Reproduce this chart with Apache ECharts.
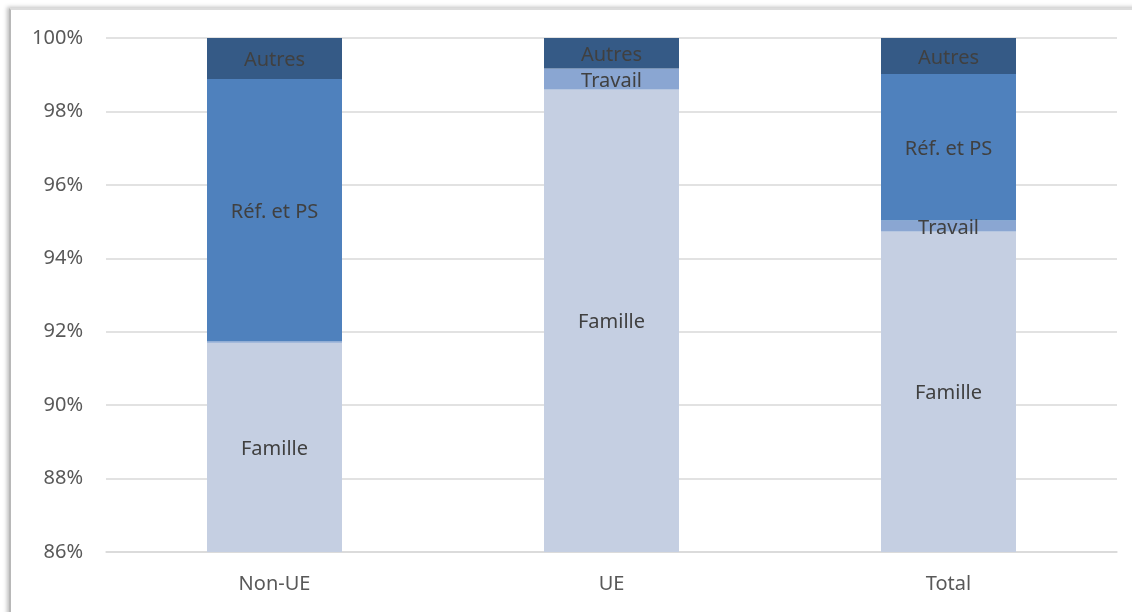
<!DOCTYPE html>
<html>
<head>
<meta charset="utf-8">
<script src="https://cdn.jsdelivr.net/npm/echarts@6/dist/echarts.min.js"></script>
<style>
  html, body { margin: 0; padding: 0; background: #fff; overflow: hidden; }
  #frame {
    position: absolute; left: 9px; top: 8px; width: 1140px; height: 620px;
    border-left: 2px solid #b8b8b8; border-top: 2px solid #dcdcdc;
    box-shadow: -2px -1px 4px rgba(0, 0, 0, 0.25);
    background: #fff;
  }
  #chart { position: absolute; left: 0; top: 0; width: 1132px; height: 612px; }
</style>
</head>
<body>
<div id="frame"></div>
<div id="chart"></div>
<script>
// catégories et valeurs (en %)
const categories = ["Non-UE", "UE", "Total"];
const famille = [91.70, 98.60, 94.73];
const travail = [0.04, 0.57, 0.30];
const refPS = [7.14, 0.0, 3.99];
const autres = [1.12, 0.83, 0.98];
const yMin = 86, yMax = 100, yStep = 2;

const labelStyle = {
  show: true,
  position: "inside",
  offset: [0, 2],
  color: "#404040",
  fontFamily: "Noto Sans",
  fontSize: 20,
  formatter: p => (p.value > 0.2 ? p.seriesName : "")
};

function makeSeries(name, data, color) {
  return {
    name: name,
    type: "bar",
    stack: "total",
    barWidth: 135,
    data: data,
    itemStyle: { color: color },
    label: labelStyle
  };
}

const chart = echarts.init(document.getElementById("chart"));
chart.setOption({
  backgroundColor: "transparent",
  animation: false,
  grid: { left: 106, right: 15, top: 38, bottom: 60 },
  xAxis: {
    type: "category",
    data: categories,
    axisLine: { show: true, lineStyle: { color: "#d9d9d9", width: 1.5 } },
    axisTick: { show: false },
    axisLabel: { color: "#595959", fontFamily: "Noto Sans", fontSize: 20, margin: 22 }
  },
  yAxis: {
    type: "value",
    min: yMin,
    max: yMax,
    interval: yStep,
    axisLine: { show: false },
    axisTick: { show: false },
    axisLabel: {
      color: "#595959", fontFamily: "Noto Sans", fontSize: 20, margin: 23,
      formatter: "{value}%"
    },
    splitLine: { lineStyle: { color: "#d9d9d9", width: 1.5 } }
  },
  series: [
    makeSeries("Famille", famille, "#c5cfe2"),
    makeSeries("Travail", travail, "#8aa6d2"),
    makeSeries("Réf. et PS", refPS, "#4f81bd"),
    makeSeries("Autres", autres, "#355a86")
  ]
});
</script>
</body>
</html>
